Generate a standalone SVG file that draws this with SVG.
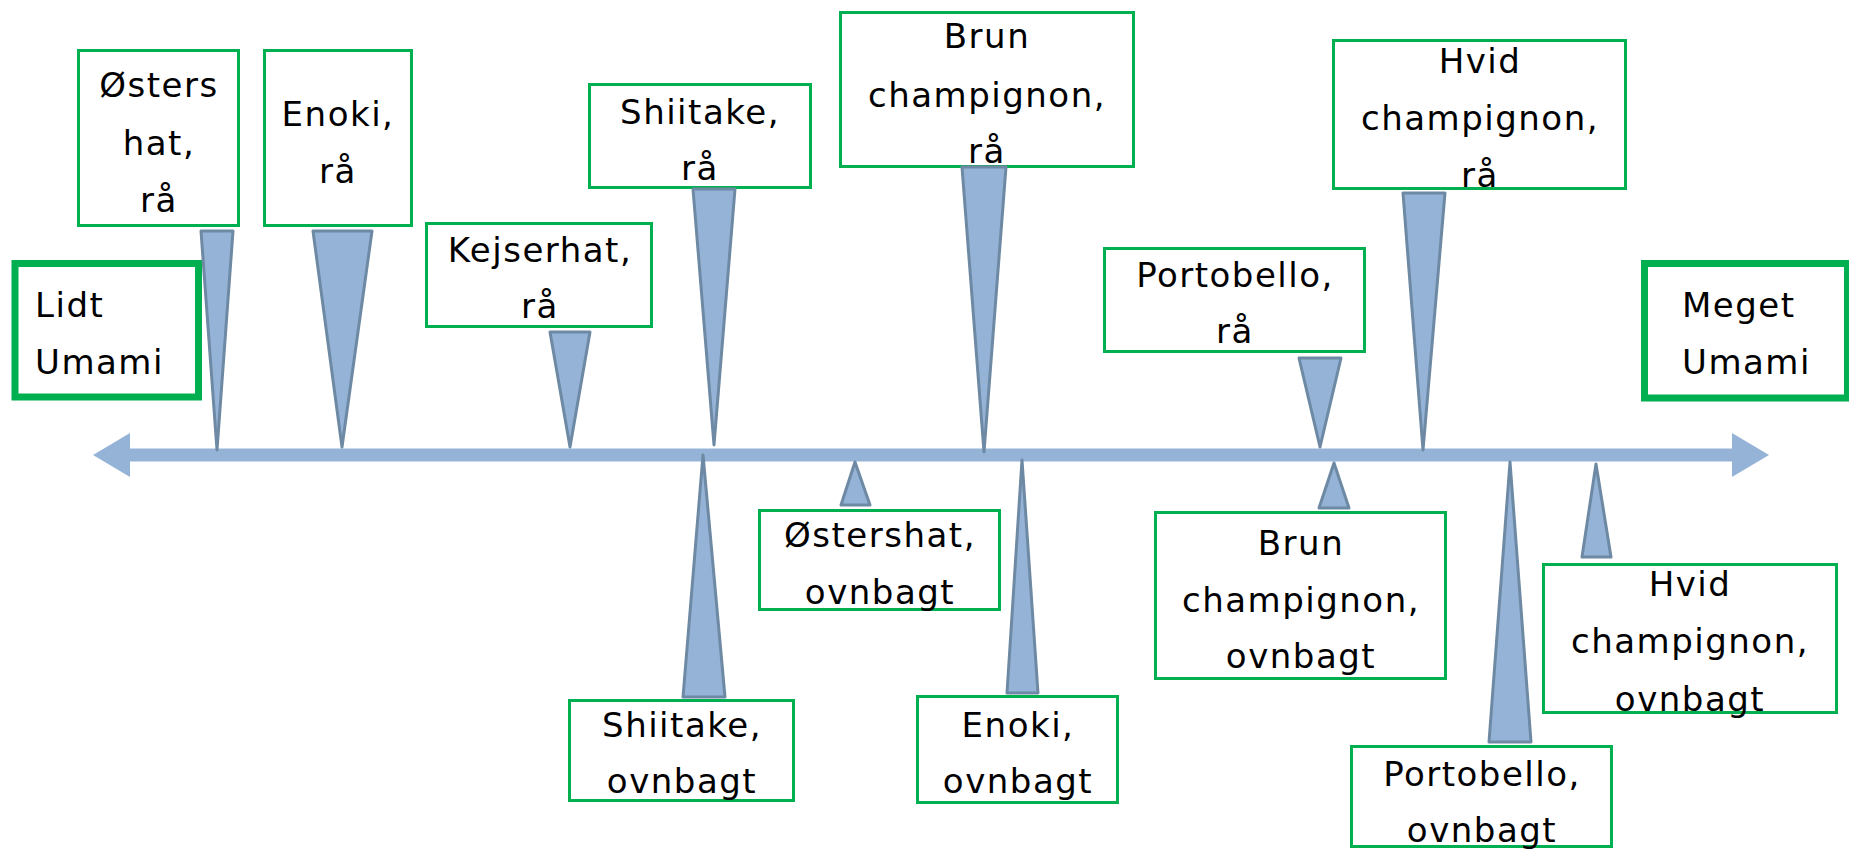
<svg xmlns="http://www.w3.org/2000/svg" width="1849" height="850" viewBox="0 0 1849 850">
<style>
.box{fill:#fff;stroke:#00B050;stroke-width:3}
.end{fill:#fff;stroke:#00B050;stroke-width:7}
.t{font-family:"DejaVu Sans","Liberation Sans",sans-serif;font-size:34px;letter-spacing:1.5px;fill:#000;text-anchor:middle}
.l{text-anchor:start}
.ptr{fill:#95B3D7;stroke:#6D89A3;stroke-width:3;stroke-linejoin:round}
.axis{fill:#95B3D7}
</style>
<rect width="1849" height="850" fill="#fff"/>
<g id="axis-group">
<path class="axis" d="M93,455 L130,433 L130,448.5 L1732,448.5 L1732,433 L1769,455 L1732,477 L1732,461.5 L130,461.5 L130,477 Z"/>
</g>
<g id="lidt-umami"><rect class="end" x="15" y="263.5" width="183.5" height="133.5"/><text class="t l" x="35" y="317">Lidt</text><text class="t l" x="35" y="374">Umami</text></g>
<g id="meget-umami"><rect class="end" x="1644.5" y="263.5" width="203" height="134.5"/><text class="t l" x="1682" y="317">Meget</text><text class="t l" x="1682" y="374">Umami</text></g>
<g id="oesters-raa"><rect class="box" x="78.5" y="50.5" width="160" height="175"/><text class="t" x="159" y="97">Østers</text><text class="t" x="159" y="155">hat,</text><text class="t" x="159" y="212">rå</text></g>
<g id="enoki-raa"><rect class="box" x="264.5" y="50.5" width="147" height="175"/><text class="t" x="338" y="126">Enoki,</text><text class="t" x="338" y="183">rå</text></g>
<g id="kejserhat-raa"><rect class="box" x="426.5" y="223.5" width="225" height="103"/><text class="t" x="540" y="262">Kejserhat,</text><text class="t" x="540" y="318">rå</text></g>
<g id="shiitake-raa"><rect class="box" x="589.5" y="84.5" width="221" height="103"/><text class="t" x="700" y="124">Shiitake,</text><text class="t" x="700" y="180">rå</text></g>
<g id="brun-raa"><rect class="box" x="840.5" y="12.5" width="293" height="154"/><text class="t" x="987" y="48">Brun</text><text class="t" x="987" y="107">champignon,</text><text class="t" x="987" y="163">rå</text></g>
<g id="portobello-raa"><rect class="box" x="1104.5" y="248.5" width="260" height="103"/><text class="t" x="1235" y="287">Portobello,</text><text class="t" x="1235" y="343">rå</text></g>
<g id="hvid-raa"><rect class="box" x="1333.5" y="40.5" width="292" height="148"/><text class="t" x="1480" y="73">Hvid</text><text class="t" x="1480" y="130">champignon,</text><text class="t" x="1480" y="187">rå</text></g>
<g id="shiitake-ovn"><rect class="box" x="569.5" y="700.5" width="224" height="100"/><text class="t" x="682" y="737">Shiitake,</text><text class="t" x="682" y="793">ovnbagt</text></g>
<g id="oesters-ovn"><rect class="box" x="759.5" y="510.5" width="240" height="99"/><text class="t" x="880" y="547">Østershat,</text><text class="t" x="880" y="604">ovnbagt</text></g>
<g id="enoki-ovn"><rect class="box" x="917.5" y="696.5" width="200" height="106"/><text class="t" x="1018" y="737">Enoki,</text><text class="t" x="1018" y="793">ovnbagt</text></g>
<g id="brun-ovn"><rect class="box" x="1155.5" y="512.5" width="290" height="166"/><text class="t" x="1301" y="555">Brun</text><text class="t" x="1301" y="612">champignon,</text><text class="t" x="1301" y="668">ovnbagt</text></g>
<g id="portobello-ovn"><rect class="box" x="1351.5" y="746.5" width="260" height="100"/><text class="t" x="1482" y="786">Portobello,</text><text class="t" x="1482" y="842">ovnbagt</text></g>
<g id="hvid-ovn"><rect class="box" x="1543.5" y="564.5" width="293" height="148"/><text class="t" x="1690" y="596">Hvid</text><text class="t" x="1690" y="653">champignon,</text><text class="t" x="1690" y="711">ovnbagt</text></g>
<g id="connectors">
<polygon class="ptr" points="201,231 233,231 217,450"/>
<polygon class="ptr" points="313,231 372,231 342,447"/>
<polygon class="ptr" points="550,332 590,332 570,447"/>
<polygon class="ptr" points="693,189 735,189 714,445"/>
<polygon class="ptr" points="962,167 1006,167 984,452"/>
<polygon class="ptr" points="1299,358 1341,358 1320,447"/>
<polygon class="ptr" points="1403,193 1445,193 1423,450"/>
<polygon class="ptr" points="703,455 725,697 683,697"/>
<polygon class="ptr" points="855,462 870,505 841,505"/>
<polygon class="ptr" points="1022,460 1038,693 1007,693"/>
<polygon class="ptr" points="1334,463 1349,508 1319,508"/>
<polygon class="ptr" points="1510,462 1531,742 1489,742"/>
<polygon class="ptr" points="1596,464 1611,557 1582,557"/>
</g>
</svg>
